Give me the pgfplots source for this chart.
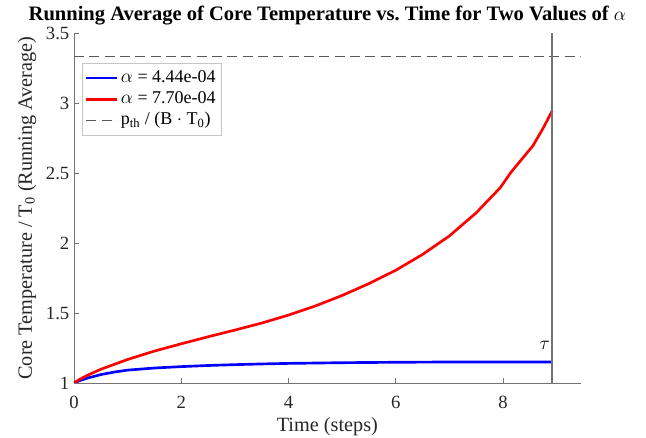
\documentclass[border=0pt]{standalone}
\usepackage{fontspec}
\setmainfont{Liberation Serif}
\usepackage{pgfplots}
\pgfplotsset{compat=1.18}
\definecolor{axgray}{gray}{0.45}
\definecolor{dashgray}{gray}{0.35}
\begin{document}
\begin{tikzpicture}
% page size follows the reference (646x437 px at 0.75pt/px)
\useasboundingbox (-55.5pt,-40.9pt) rectangle (429pt,287.25pt);
\begin{axis}[
  width=380pt, height=262.5pt, scale only axis,
  xmin=0, xmax=9.45, ymin=1, ymax=3.5,
  axis x line*=bottom, axis y line*=left,
  axis line style={draw=axgray, -},
  tick style={draw=axgray, thin},
  tick align=inside, major tick length=4pt,
  xtick={0,2,4,6,8},
  ytick={1,1.5,2,2.5,3,3.5},
  /pgf/number format/assume math mode=true,
  tick label style={font=\fontsize{14}{16}\selectfont, text=black!85},
  xticklabel style={anchor=base, yshift=-19pt},
  xlabel={Time (steps)},
  xlabel style={at={(rel axis cs:0.5,0)}, anchor=base, yshift=-36.4pt},
  ylabel={Core Temperature / T\textsubscript{0} (Running Average)},
  ylabel style={at={(rel axis cs:-0.0928,0.5)}, anchor=center},
  label style={font=\fontsize{15.2}{17}\selectfont, text=black!85},
  title={\bfseries Running Average of Core Temperature vs.\ Time for Two Values of $\alpha$},
  title style={at={(rel axis cs:0.5,1)}, anchor=base, yshift=3.5pt, font=\fontsize{15.4}{17}\selectfont},
  legend style={at={(0.0158,0.914)}, anchor=north west, draw=gray!45,
    font=\fontsize{13.5}{15}\selectfont, inner xsep=2pt, inner ysep=3.5pt,
    row sep=0.6pt,
    nodes={text height=10pt, text depth=3pt, inner ysep=1.1pt, inner xsep=2pt}},
  legend cell align=left,
  legend image code/.code={\draw[#1] (0pt,0pt) -- (23pt,0pt);},
]
\addplot[blue, line width=2pt] coordinates {
(0,1.0) (0.1,1.016) (0.25,1.035) (0.5,1.060) (0.75,1.078) (1,1.092) (1.5,1.107)
(2,1.117) (2.5,1.125) (3,1.131) (3.5,1.136) (4,1.140) (5,1.145) (6,1.148)
(7,1.150) (8,1.150) (8.92,1.150)};
\addlegendentry{$\alpha$ = 4.44e-04}
\addplot[red, line width=2pt] coordinates {
(0,1.0) (0.1,1.025) (0.25,1.055) (0.5,1.098) (1,1.168) (1.5,1.228) (2,1.280)
(2.5,1.330) (3,1.378) (3.5,1.428) (4,1.485) (4.5,1.550) (5,1.625) (5.5,1.710)
(6,1.805) (6.5,1.918) (7,2.050) (7.5,2.215) (7.95,2.395) (8.15,2.505)
(8.56,2.695) (8.75,2.820) (8.92,2.945)};
\addlegendentry{$\alpha$ = 7.70e-04}
\addplot[dashgray, line width=1.1pt, dash pattern=on 7.5pt off 4pt] coordinates {
(0,3.3333) (9.45,3.3333)};
\addlegendentry{p\textsubscript{th} / (B $\cdot$ T\textsubscript{0})}
\addplot[axgray, line width=1.4pt, forget plot] coordinates {(8.92,1) (8.92,3.5)};
\node[anchor=east, inner sep=0pt, xshift=-1.5pt, font=\fontsize{15}{16}\selectfont] at (axis cs:8.92,1.271) {$\tau$};
\node[anchor=base east, inner sep=0pt, xshift=1.5pt, yshift=-39.4pt, font=\fontsize{14}{16}\selectfont, text=black!85] at (rel axis cs:1,0) {×10\textsuperscript{6}};
\end{axis}
\end{tikzpicture}
\end{document}
